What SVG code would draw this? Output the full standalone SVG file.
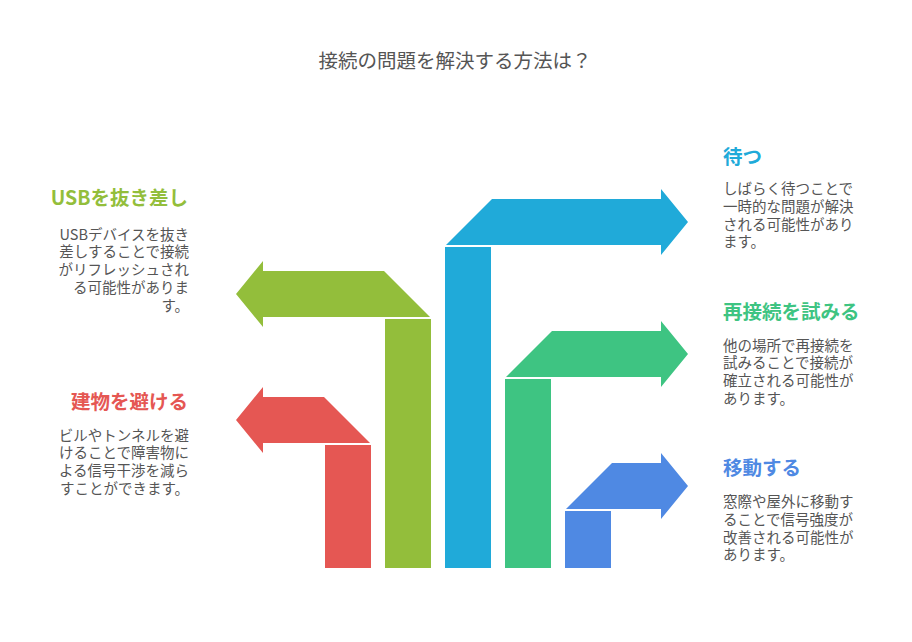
<svg xmlns="http://www.w3.org/2000/svg" width="912" height="642" viewBox="0 0 912 642">
<style>
text{font-family:"Noto Sans CJK JP","Noto Sans",sans-serif}
.title{font-size:19.5px;fill:#555555}
.h{font-size:19.5px;font-weight:700}
.b{font-size:14.5px;fill:#555555}
.l{text-anchor:end}
.red{fill:#E55753}.grn{fill:#93BE3B}.blu{fill:#20AAD9}.teal{fill:#3EC482}.blu2{fill:#4F89E3}
</style>
<rect width="912" height="642" fill="#ffffff"/>
<text class="title" x="455" y="68" text-anchor="middle">接続の問題を解決する方法は？</text>

<g id="node-building">
<rect class="red" x="325" y="445" width="46" height="123"/>
<path class="red" d="M236,420 L263,387 L263,397 L324,397 L370,443 L263,443 L263,453 Z"/>
<text class="h l red" x="188" y="408.5">建物を避ける</text>
<text class="b l"><tspan x="189" y="440.5">ビルやトンネルを避</tspan><tspan x="189" y="458.3">けることで障害物に</tspan><tspan x="189" y="476">よる信号干渉を減ら</tspan><tspan x="189" y="494">すことができます。</tspan></text>
</g>

<g id="node-usb">
<rect class="grn" x="385" y="319" width="46" height="249"/>
<path class="grn" d="M236,294 L263,261 L263,271 L384,271 L430,317 L263,317 L263,327 Z"/>
<text class="h l grn" x="188" y="205">USBを抜き差し</text>
<text class="b l"><tspan x="189" y="239.5">USBデバイスを抜き</tspan><tspan x="189" y="257.3">差しすることで接続</tspan><tspan x="189" y="275">がリフレッシュされ</tspan><tspan x="189" y="293">る可能性がありま</tspan><tspan x="189" y="310.5">す。</tspan></text>
</g>

<g id="node-wait">
<rect class="blu" x="445" y="247" width="46" height="321"/>
<path class="blu" d="M446,245 L492,199 L661,199 L661,189 L688,222 L661,255 L661,245 Z"/>
<text class="h blu" x="723" y="163.5">待つ</text>
<text class="b"><tspan x="723" y="194">しばらく待つことで</tspan><tspan x="723" y="211.8">一時的な問題が解決</tspan><tspan x="723" y="229.6">される可能性があり</tspan><tspan x="723" y="247.4">ます。</tspan></text>
</g>

<g id="node-reconnect">
<rect class="teal" x="505" y="379" width="46" height="189"/>
<path class="teal" d="M506,377 L552,331 L661,331 L661,321 L688,354 L661,387 L661,377 Z"/>
<text class="h teal" x="723" y="318.5">再接続を試みる</text>
<text class="b"><tspan x="723" y="350.5">他の場所で再接続を</tspan><tspan x="723" y="368.3">試みることで接続が</tspan><tspan x="723" y="386">確立される可能性が</tspan><tspan x="723" y="404">あります。</tspan></text>
</g>

<g id="node-move">
<rect class="blu2" x="565" y="511" width="46" height="57"/>
<path class="blu2" d="M566,509 L612,463 L661,463 L661,453 L688,486 L661,519 L661,509 Z"/>
<text class="h blu2" x="723" y="475">移動する</text>
<text class="b"><tspan x="723" y="507">窓際や屋外に移動す</tspan><tspan x="723" y="525">ることで信号強度が</tspan><tspan x="723" y="542.6">改善される可能性が</tspan><tspan x="723" y="560.4">あります。</tspan></text>
</g>
</svg>
